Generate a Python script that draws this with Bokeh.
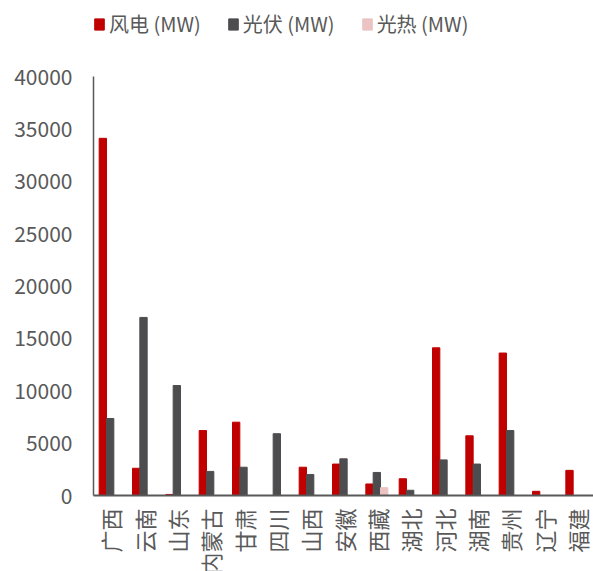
import math
from bokeh.plotting import figure
from bokeh.models import ColumnDataSource, FixedTicker, Legend, LegendItem, FactorRange
from bokeh.transform import dodge
from bokeh.embed import file_html
from bokeh.resources import INLINE

# Installed capacity by province (MW)
provinces = ["广西", "云南", "山东", "内蒙古", "甘肃", "四川", "山西", "安徽",
             "西藏", "湖北", "河北", "湖南", "贵州", "辽宁", "福建"]
wind = [34100, 2600, 100, 6200, 7000, 0, 2700, 3000, 1100, 1600, 14100, 5700, 13600, 400, 2400]
solar_pv = [7350, 17000, 10500, 2300, 2700, 5900, 2000, 3500, 2200, 500, 3400, 3000, 6200, 0, 0]
solar_thermal = [0, 0, 0, 0, 0, 0, 0, 0, 750, 0, 0, 0, 0, 0, 0]
y_ticks = [0, 5000, 10000, 15000, 20000, 25000, 30000, 35000, 40000]

FONT = "Noto Sans CJK SC"
TEXT_COLOR = "#595959"
AXIS_COLOR = "#595959"

# The frame runs to the top of the canvas so the legend can sit inside it;
# the value axis itself stops at 40000 (76 px below the top).
FRAME_H = 495
AXIS_H = 419
y_top = 40000 * FRAME_H / AXIS_H

source = ColumnDataSource(dict(province=provinces, wind=wind, pv=solar_pv, thermal=solar_thermal))

p = figure(x_range=FactorRange(*provinces, range_padding=0), y_range=(0, y_top),
           frame_width=500, frame_height=FRAME_H, output_backend="svg", toolbar_location=None,
           min_border_left=93, min_border_right=0, min_border_top=0, min_border_bottom=76)

bw = 0.22
r_wind = p.vbar(x=dodge("province", -bw, range=p.x_range), top="wind", width=bw,
                source=source, color="#C00000")
r_pv = p.vbar(x=dodge("province", 0, range=p.x_range), top="pv", width=bw,
              source=source, color="#4D4D4F")
r_th = p.vbar(x=dodge("province", bw, range=p.x_range), top="thermal", width=bw,
              source=source, color="#EBC3C3")

p.xgrid.visible = False
p.ygrid.visible = False
p.outline_line_color = None
p.background_fill_color = "white"
p.border_fill_color = "white"

p.yaxis.ticker = FixedTicker(ticks=y_ticks)
p.yaxis.bounds = (0, 40000)
p.yaxis.major_tick_out = 0
p.yaxis.major_tick_in = 0
p.yaxis.minor_tick_out = 0
p.yaxis.minor_tick_in = 0
p.yaxis.major_label_standoff = 21
p.yaxis.axis_line_color = AXIS_COLOR
p.yaxis.axis_line_width = 1.5

p.xaxis.major_tick_out = 0
p.xaxis.major_tick_in = 0
p.xaxis.major_label_orientation = math.pi / 2
p.xaxis.major_label_standoff = 13
p.xaxis.axis_line_color = AXIS_COLOR
p.xaxis.axis_line_width = 2

for ax in (p.xaxis, p.yaxis):
    ax.major_label_text_font = FONT
    ax.major_label_text_color = TEXT_COLOR
p.yaxis.major_label_text_font_size = "21px"
p.xaxis.major_label_text_font_size = "22px"

legend = Legend(items=[
    LegendItem(label="风电 (MW)", renderers=[r_wind]),
    LegendItem(label="光伏 (MW)", renderers=[r_pv]),
    LegendItem(label="光热 (MW)", renderers=[r_th]),
], orientation="horizontal", location=(0, FRAME_H - 38))
legend.padding = 0
legend.margin = 0
legend.spacing = 26
legend.glyph_width = 12
legend.glyph_height = 14
legend.label_standoff = 4
legend.label_height = 20
legend.label_text_font = FONT
legend.label_text_font_size = "20px"
legend.label_text_color = TEXT_COLOR
legend.border_line_color = None
legend.background_fill_alpha = 0
legend.border_line_alpha = 0
p.add_layout(legend, "center")

open("out.html", "w").write(file_html(p, INLINE))
